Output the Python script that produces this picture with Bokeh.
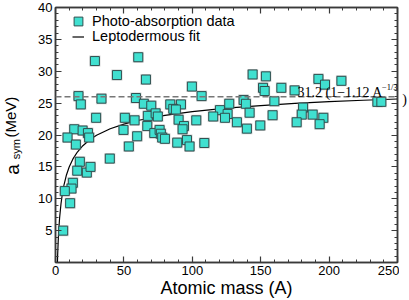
import math
from bokeh.plotting import figure
from bokeh.layouts import row
from bokeh.models import (Range1d, LinearAxis, FixedTicker, Label, Legend,
                          LegendItem, Span)
from bokeh.core.properties import value
from bokeh.embed import file_html
from bokeh.resources import INLINE

# ---- data ----
mass = [28.8, 60.5, 44.9, 16.8, 18.5, 33.6, 58.8, 29.7, 50.7, 57.8,
        13.7, 19.8, 23.7, 24.6, 8.8, 49.7, 59.7, 14.9, 53.6, 39.7,
        17.8, 15.9, 22.9, 25.6, 12.7, 11.7, 6.8, 10.7, 5.6, 66.1,
        99.7, 144.1, 153.8, 106.8, 64.6, 70.0, 83.9, 91.7, 86.1, 88.0,
        67.5, 73.2, 74.8, 127.0, 137.5, 139.2, 151.7, 152.9, 160.0, 120.2,
        125.8, 115.3, 123.9, 141.9, 158.7, 90.0, 102.9, 67.1, 93.9, 92.9,
        132.6, 139.9, 149.7, 72.2, 76.1, 77.0, 78.0, 80.0, 89.0, 96.1,
        98.0, 108.8, 165.1, 174.8, 192.2, 197.0, 209.0, 181.0, 180.0, 188.0,
        176.3, 195.8, 193.1, 235.3, 238.2]
asym = [31.6, 32.2, 29.4, 26.1, 24.8, 25.7, 25.8, 22.7, 22.7, 22.3,
        20.9, 20.7, 20.3, 19.6, 19.6, 20.8, 19.8, 18.5, 18.2, 16.3,
        15.8, 14.4, 14.1, 15.0, 12.5, 11.6, 11.2, 9.3, 5.0, 28.7,
        27.6, 29.5, 29.2, 26.1, 24.9, 24.6, 24.8, 24.8, 24.1, 24.0,
        23.0, 23.4, 22.9, 24.9, 25.5, 24.9, 27.4, 26.9, 25.3, 23.9,
        23.3, 22.9, 22.7, 23.5, 23.1, 22.4, 22.3, 21.4, 21.4, 20.9,
        22.0, 21.0, 21.5, 20.3, 20.8, 20.2, 19.6, 19.4, 18.8, 19.2,
        18.2, 18.75, 27.4, 27.0, 28.8, 27.9, 28.5, 24.3, 23.2, 23.2,
        22.0, 22.7, 21.7, 25.2, 25.2]

fit_mass = [1.405, 1.6, 2, 2.5, 3, 4, 5, 6, 8, 10, 13, 16, 20, 25, 30,
            40, 50, 60, 80, 100, 125, 150, 175, 200, 225, 250]
fit_asym = [0.0, 1.32, 3.47, 5.45, 6.97, 9.18, 10.76, 11.97, 13.73, 14.98,
            16.34, 17.33, 18.32, 19.25, 19.95, 20.98, 21.71, 22.27, 23.09,
            23.67, 24.21, 24.62, 24.95, 25.22, 25.45, 25.65]

dashed_level = 26.0
x_ticks = [0, 50, 100, 150, 200, 250]
y_ticks = [5, 10, 15, 20, 25, 30, 35, 40]
x_minor = list(range(0, 251, 10))
y_minor = list(range(0, 41, 1))

AX = "#3a3a3a"
SANS = "Liberation Sans"
SERIF = "Liberation Serif"
TOP, BOTTOM = 7, 37
LEFT_W, RIGHT_W, H = 30, 10, 300

yr = Range1d(0, 40)


def side_fig(width, xmax):
    f = figure(width=width, height=H, x_range=Range1d(0, xmax), y_range=yr,
               output_backend="svg", toolbar_location=None,
               x_axis_location=None, y_axis_location=None,
               min_border_left=0, min_border_right=0,
               min_border_top=TOP, min_border_bottom=BOTTOM)
    f.grid.visible = False
    f.outline_line_color = None
    return f


main = figure(width=409 - LEFT_W - RIGHT_W, height=H, x_range=Range1d(0, 250),
              y_range=yr, output_backend="svg", toolbar_location=None,
              x_axis_location=None, y_axis_location=None,
              min_border_left=55 - LEFT_W, min_border_right=2,
              min_border_top=TOP, min_border_bottom=BOTTOM)
main.grid.visible = False
main.outline_line_color = AX
main.outline_line_width = 1.5


def make_axis(ticks, minor, show_labels):
    ax = LinearAxis(ticker=FixedTicker(ticks=ticks, minor_ticks=minor))
    ax.axis_line_color = AX
    ax.axis_line_width = 1.5
    ax.major_tick_line_color = AX
    ax.minor_tick_line_color = AX
    ax.major_tick_line_width = 1.2
    ax.minor_tick_line_width = 1
    ax.major_tick_in = 6
    ax.major_tick_out = 0
    ax.minor_tick_in = 3
    ax.minor_tick_out = 0
    ax.major_label_text_font = SANS
    if show_labels:
        ax.major_label_text_font_size = "13px"
        ax.major_label_text_color = "black"
        ax.major_label_standoff = 3
    else:
        ax.major_label_text_font_size = "0px"
        ax.major_label_text_color = None
        ax.major_label_standoff = 0
    return ax


xb = make_axis(x_ticks, x_minor, True)
xb.axis_label = "Atomic mass (A)"
xb.axis_label_text_font = SANS
xb.axis_label_text_font_size = "18px"
xb.axis_label_text_font_style = "normal"
xb.axis_label_text_color = "black"
xb.axis_label_standoff = 0
main.add_layout(xb, "below")
main.add_layout(make_axis(y_ticks, y_minor, True), "left")
main.add_layout(make_axis(x_ticks, x_minor, False), "above")
main.add_layout(make_axis(y_ticks, y_minor, False), "right")

main.add_layout(Span(location=dashed_level, dimension="width", line_color="#777777",
                     line_width=1.5, line_dash="6 3"))

fit = main.line(fit_mass, fit_asym, line_color="black", line_width=1.2)
main.scatter(mass, asym, marker="square", size=11, fill_color="#8a8a8a",
             fill_alpha=0.4, line_color=None)
pts = main.scatter(mass, asym, marker="square", size=9, fill_color="#40E0D0",
                   line_color="#2F4F4F", line_width=1)

# fit formula
main.add_layout(Label(x=176.9, y=25.55, text="31.2 (1\u22121.12 A",
                      text_font=SERIF, text_font_size="14px", text_color="black"))
main.add_layout(Label(x=238.6, y=26.7, text="\u22121/3",
                      text_font=SERIF, text_font_size="8.5px", text_color="black"))

leg1 = Legend(items=[LegendItem(label="Photo-absorption data", renderers=[pts])],
              location=(12, 230), glyph_width=22, glyph_height=22, label_standoff=3)
leg2 = Legend(items=[LegendItem(label="Leptodermous fit", renderers=[fit])],
              location=(17, 218), glyph_width=12, glyph_height=15, label_standoff=8)
for lg in (leg1, leg2):
    lg.background_fill_alpha = 0
    lg.border_line_color = None
    lg.padding = 0
    lg.margin = 0
    lg.spacing = 0
    lg.label_text_font = SANS
    lg.label_text_font_size = "14.5px"
    lg.label_text_color = "black"
    main.add_layout(lg)

# y-axis title  a_sym (MeV), drawn in a narrow strip to the left
left = side_fig(LEFT_W, LEFT_W)
ylab_text = ["a", "sym", "(MeV)"]
ylab_x = [11.5, 15.5, 10.0]
ylab_y = [13.75, 16.2, 19.6]
ylab_size = ["19px", "11px", "15px"]
for t, x, y, s in zip(ylab_text, ylab_x, ylab_y, ylab_size):
    left.text(x=[x], y=[y], text=[t], angle=math.pi / 2, text_font=value(SANS),
              text_font_size=value(s), text_align="left",
              text_baseline="alphabetic", text_color="black")

# closing parenthesis of the formula, which runs past the frame
right = side_fig(RIGHT_W, RIGHT_W)
right.text(x=[2.7], y=[25.55], text=[")"], text_font=value(SERIF),
           text_font_size=value("14px"), text_align="left",
           text_baseline="alphabetic", text_color="black")

layout = row(left, main, right, spacing=0)
open("out.html", "w").write(file_html(layout, INLINE))
